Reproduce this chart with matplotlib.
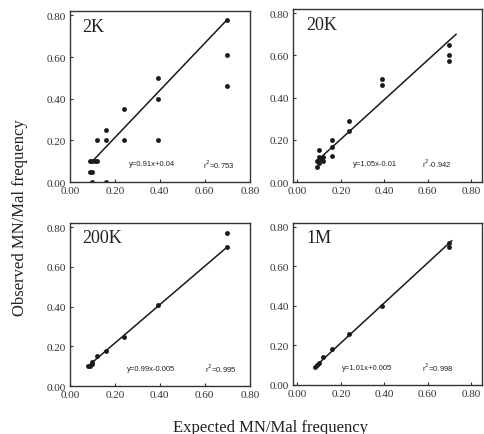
import matplotlib
matplotlib.use("Agg")
import matplotlib.pyplot as plt

plt.rcParams['font.family'] = ['Liberation Serif', 'DejaVu Serif']

# Values (expected vs observed MN/Mal frequency)
x_2k = [0.09, 0.10, 0.11, 0.12, 0.09, 0.10, 0.10, 0.16, 0.12, 0.16, 0.16,
        0.24, 0.24, 0.39, 0.39, 0.39, 0.70, 0.70, 0.70]
y_2k = [0.10, 0.10, 0.10, 0.10, 0.05, 0.05, 0.00, 0.00, 0.20, 0.20, 0.25,
        0.20, 0.35, 0.20, 0.40, 0.50, 0.78, 0.61, 0.46]
fit_x_2k = [0.10, 0.70]
fit_y_2k = [0.10, 0.78]

x_20k = [0.09, 0.09, 0.10, 0.10, 0.11, 0.12, 0.10, 0.12, 0.16, 0.16, 0.16,
         0.24, 0.24, 0.39, 0.39, 0.70, 0.70, 0.70]
y_20k = [0.07, 0.10, 0.09, 0.12, 0.11, 0.12, 0.15, 0.10, 0.20, 0.165, 0.125,
         0.29, 0.24, 0.49, 0.46, 0.65, 0.60, 0.575]
fit_x_20k = [0.09, 0.73]
fit_y_20k = [0.10, 0.70]

x_200k = [0.08, 0.09, 0.10, 0.10, 0.12, 0.16, 0.24, 0.39, 0.70, 0.70]
y_200k = [0.10, 0.10, 0.11, 0.12, 0.15, 0.175, 0.245, 0.41, 0.77, 0.70]
fit_x_200k = [0.08, 0.70]
fit_y_200k = [0.10, 0.70]

x_1m = [0.08, 0.09, 0.10, 0.12, 0.16, 0.24, 0.39, 0.70, 0.70]
y_1m = [0.09, 0.10, 0.11, 0.14, 0.18, 0.26, 0.40, 0.72, 0.70]
fit_x_1m = [0.08, 0.71]
fit_y_1m = [0.09, 0.73]

labels = ['2K', '20K', '200K', '1M']
equations = ['y=0.91x+0.04', 'y=1.05x-0.01', 'y=0.99x-0.005', 'y=1.01x+0.005']
r2_texts = [r'r$^2$=0.753', r'r$^2$-0.942', r'r$^2$=0.995', r'r$^2$=0.998']
ticks = [0.0, 0.2, 0.4, 0.6, 0.8]
tick_labels = ['0.00', '0.20', '0.40', '0.60', '0.80']

fig = plt.figure(figsize=(4.85, 4.35), dpi=100)

# axes boxes [left, bottom, width, height] in figure fractions
boxes = [[0.144, 0.579, 0.371, 0.393],
         [0.604, 0.579, 0.390, 0.398],
         [0.144, 0.110, 0.371, 0.375],
         [0.604, 0.113, 0.390, 0.372]]
# right-hand panels run a bit wider than 0.8 in the scan
xlims = [(0, 0.8), (-0.02, 0.85), (0, 0.8), (-0.02, 0.85)]
eq_pos = [(0.33, 0.74), (0.32, 0.68), (0.32, 0.75), (0.26, 0.68)]

panels = [(x_2k, y_2k, fit_x_2k, fit_y_2k),
          (x_20k, y_20k, fit_x_20k, fit_y_20k),
          (x_200k, y_200k, fit_x_200k, fit_y_200k),
          (x_1m, y_1m, fit_x_1m, fit_y_1m)]

for i, (xs, ys, fx, fy) in enumerate(panels):
    ax = fig.add_axes(boxes[i])
    ax.plot(fx, fy, color='#1a1a1a', lw=1.1)
    ax.plot(xs, ys, 'o', color='#1a1a1a', ms=3.5, mec='none')
    ax.set_xlim(*xlims[i])
    ax.set_ylim(0, 0.82)
    ax.set_xticks(ticks)
    ax.set_xticklabels(tick_labels)
    ax.set_yticks(ticks)
    ax.set_yticklabels(tick_labels)
    ax.tick_params(direction='in', length=2.5, width=0.8, labelsize=8,
                   colors='#333333', pad=3)
    for s in ax.spines.values():
        s.set_linewidth(1.0)
        s.set_color('#333333')
    ax.text(0.07, 0.91, labels[i], transform=ax.transAxes, fontsize=13,
            ha='left', va='center', color='#222222')
    ax.text(eq_pos[i][0], 0.11, equations[i], transform=ax.transAxes,
            fontsize=5.5, family='Liberation Sans', ha='left', va='center',
            color='#222222')
    ax.text(eq_pos[i][1], 0.11, r2_texts[i], transform=ax.transAxes,
            fontsize=5.5, family='Liberation Sans', ha='left', va='center',
            color='#222222')

fig.text(0.557, 0.016, 'Expected MN/Mal frequency', ha='center', va='center',
         fontsize=12, color='#222222')
fig.text(0.042, 0.50, 'Observed MN/Mal frequency', ha='center', va='center',
         rotation=90, fontsize=12, color='#222222')

fig.savefig('out.png', dpi=100)
